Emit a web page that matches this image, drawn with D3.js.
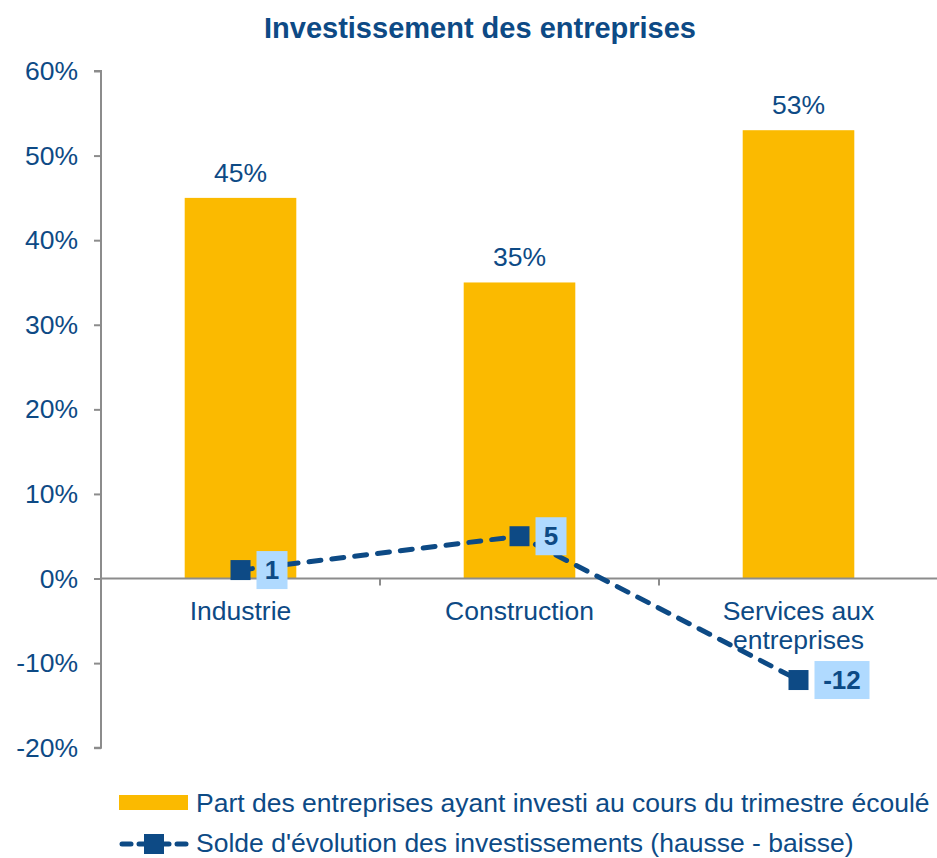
<!DOCTYPE html>
<html><head><meta charset="utf-8">
<script src="https://cdn.jsdelivr.net/npm/d3@7"></script>
<style>body{margin:0;background:#fff;}svg{display:block;font-family:"Liberation Sans",Arial,sans-serif;}</style>
</head><body>
<svg id="c" width="937" height="858"></svg>
<script>
const categories = [["Industrie"], ["Construction"], ["Services aux", "entreprises"]];
const barValues = [45, 35, 53];
const lineValues = [1, 5, -12];
const yTicks = [-20, -10, 0, 10, 20, 30, 40, 50, 60];
const title = "Investissement des entreprises";
const legendLabels = ["Part des entreprises ayant investi au cours du trimestre écoulé", "Solde d'évolution des investissements (hausse - baisse)"];

const navy = "#0D4A85", barColor = "#FBBA00", axisColor = "#8C8C8C", labelBg = "#B0DAFF";
const FS = 26.5;
const svg = d3.select("#c");
const x0 = 101, x1 = 938;
const y = d3.scaleLinear().domain([-20, 60]).range([747.7, 71]);
const x = d3.scaleBand().domain(d3.range(categories.length)).range([x0, x1]).paddingInner(0.6).paddingOuter(0.3);
const xc = i => x(i) + x.bandwidth() / 2;

svg.append("text").attr("x", 480).attr("y", 38).attr("text-anchor", "middle")
  .attr("font-size", 29).attr("font-weight", "bold").attr("fill", navy).text(title);

// y axis
const ya = svg.append("g").attr("transform", `translate(${x0},0)`)
  .call(d3.axisLeft(y).tickValues(yTicks).tickSize(7).tickFormat(d => d + "%").tickPadding(16));
ya.select(".domain").attr("stroke", axisColor).attr("stroke-width", 2).attr("d", `M-7,${y(60)}H0V${y(-20)}H-7`);
ya.selectAll(".tick line").attr("stroke", axisColor).attr("stroke-width", 2);
ya.selectAll(".tick text").attr("fill", navy).attr("font-size", FS).attr("font-family", "Liberation Sans, Arial, sans-serif");

// bars
svg.selectAll("rect.bar").data(barValues).join("rect").attr("class", "bar")
  .attr("x", (d, i) => x(i)).attr("width", x.bandwidth())
  .attr("y", d => y(d)).attr("height", d => y(0) - y(d)).attr("fill", barColor);
svg.selectAll("text.bl").data(barValues).join("text").attr("class", "bl")
  .attr("x", (d, i) => xc(i)).attr("y", d => y(d) - 16).attr("text-anchor", "middle")
  .attr("font-size", FS).attr("fill", navy).text(d => d + "%");

// x axis
const step = (x1 - x0) / categories.length;
svg.append("line").attr("x1", x0).attr("x2", x1).attr("y1", y(0)).attr("y2", y(0)).attr("stroke", axisColor).attr("stroke-width", 2);
d3.range(1, categories.length + 1).forEach(k => {
  svg.append("line").attr("x1", x0 + k * step).attr("x2", x0 + k * step).attr("y1", y(0)).attr("y2", y(0) + 7).attr("stroke", axisColor).attr("stroke-width", 2);
});
categories.forEach((lines, i) => {
  const t = svg.append("text").attr("text-anchor", "middle").attr("font-size", FS).attr("fill", navy);
  lines.forEach((l, j) => t.append("tspan").attr("x", xc(i)).attr("y", y(0) + 41 + j * 29).text(l));
});

// line
const line = d3.line().x((d, i) => xc(i)).y(d => y(d));
svg.append("path").datum(lineValues).attr("d", line).attr("fill", "none").attr("stroke", navy)
  .attr("stroke-width", 5).attr("stroke-dasharray", "12,11").attr("stroke-linecap", "round");
svg.selectAll("rect.mk").data(lineValues).join("rect").attr("class", "mk")
  .attr("x", (d, i) => xc(i) - 10).attr("y", d => y(d) - 10).attr("width", 20).attr("height", 20).attr("fill", navy);
lineValues.forEach((v, i) => {
  const t = String(v);
  const w = t.length > 1 ? 55 : 31;
  const bx = xc(i) + 16, by = y(v) - 19;
  svg.append("rect").attr("x", bx).attr("y", by).attr("width", w).attr("height", 38).attr("fill", labelBg);
  svg.append("text").attr("x", bx + w / 2).attr("y", by + 28).attr("text-anchor", "middle")
    .attr("font-size", 26).attr("font-weight", "bold").attr("fill", navy).text(t);
});

// legend
svg.append("rect").attr("x", 119).attr("y", 795).attr("width", 69).attr("height", 15).attr("fill", barColor);
svg.append("text").attr("x", 196).attr("y", 812).attr("font-size", FS).attr("fill", navy).text(legendLabels[0]);
[[122, 131], [139, 169], [177, 186]].forEach(([a, b]) => {
  svg.append("line").attr("x1", a).attr("x2", b).attr("y1", 844).attr("y2", 844).attr("stroke", navy)
    .attr("stroke-width", 5).attr("stroke-linecap", "round");
});
svg.append("rect").attr("x", 144).attr("y", 834).attr("width", 20).attr("height", 20).attr("fill", navy);
svg.append("text").attr("x", 196).attr("y", 852).attr("font-size", FS).attr("fill", navy).text(legendLabels[1]);
</script>
</body></html>
